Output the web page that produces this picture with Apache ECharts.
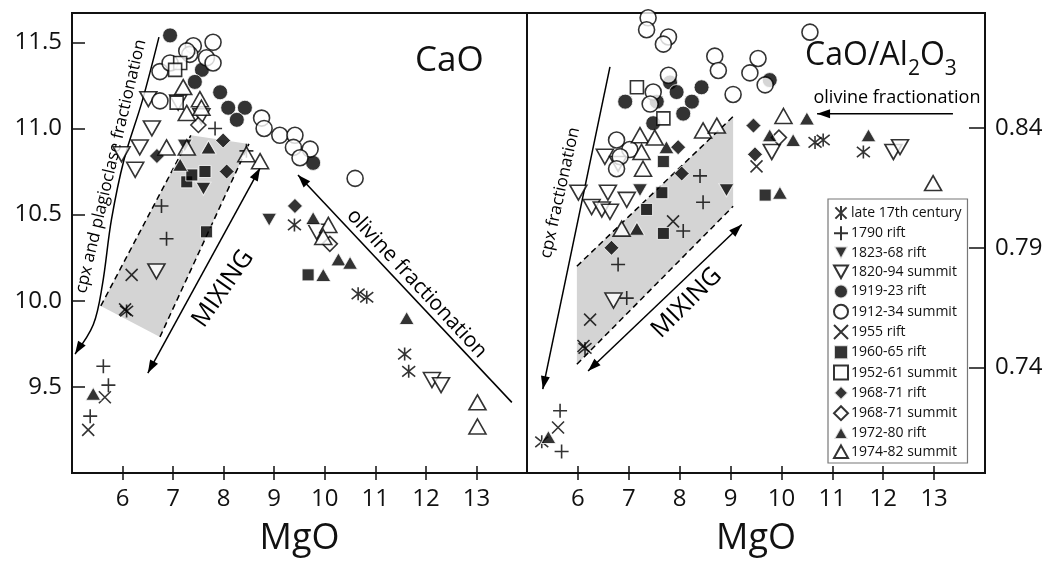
<!DOCTYPE html>
<html>
<head>
<meta charset="utf-8">
<script src="https://cdn.jsdelivr.net/npm/echarts@6/dist/echarts.min.js"></script>
<style>
  html, body { margin: 0; padding: 0; background: #fff; }
  #main { width: 1050px; height: 563px; }
</style>
</head>
<body>
<div id="main"></div>
<script>
// Kilauea lavas: CaO and CaO/Al2O3 against MgO (wt%), grouped by eruption.
const groupNames = [
  'late 17th century', '1790 rift', '1823-68 rift', '1820-94 summit',
  '1919-23 rift', '1912-34 summit', '1955 rift', '1960-65 rift',
  '1952-61 summit', '1968-71 rift', '1968-71 summit', '1972-80 rift', '1974-82 summit'
];

const mgoTicks = [6, 7, 8, 9, 10, 11, 12, 13];
const caoTicks = [9.5, 10, 10.5, 11, 11.5];
const ratioTicks = [0.74, 0.79, 0.84];

// ---- CaO vs MgO, [MgO, CaO] ----
const caoLate17 = [[9.40, 10.44], [10.66, 10.04], [10.83, 10.02], [11.58, 9.69], [11.66, 9.59], [6.08, 9.94]];
const caoRift1790 = [[6.77, 10.55], [6.87, 10.36], [5.62, 9.62], [5.72, 9.51], [5.36, 9.33], [7.83, 11.00], [8.45, 10.87]];
const caoRift1823 = [[8.90, 10.47], [7.23, 10.90], [7.60, 10.65]];
const caoSummit1820 = [[6.51, 11.17], [7.10, 11.15], [6.58, 11.00], [5.98, 10.85], [6.34, 10.89], [6.25, 10.76],
  [7.56, 11.07], [6.67, 10.17], [12.12, 9.54], [12.30, 9.51], [9.84, 10.40]];
const caoRift1919 = [[6.94, 11.54], [7.57, 11.34], [7.43, 11.27], [7.93, 11.21], [8.09, 11.12], [8.42, 11.12], [8.26, 11.05], [9.77, 10.80]];
const caoSummit1912 = [[7.40, 11.48], [7.79, 11.50], [7.33, 11.43], [7.66, 11.41], [7.79, 11.38], [6.74, 11.33], [6.94, 11.38],
  [7.27, 11.45], [6.74, 11.16], [8.75, 11.06], [8.80, 11.00], [9.11, 10.96], [9.41, 10.96], [9.38, 10.89], [9.71, 10.88],
  [9.51, 10.83], [10.60, 10.71]];
const caoRift1955 = [[6.18, 10.15], [6.05, 9.95], [5.32, 9.25], [5.65, 9.44]];
const caoRift1960 = [[7.66, 10.40], [7.63, 10.75], [7.27, 10.69], [7.37, 10.73], [9.67, 10.15]];
const caoSummit1952 = [[7.14, 11.38], [7.04, 11.34], [7.07, 11.15]];
const caoRift1968 = [[6.68, 10.84], [7.99, 10.93], [8.06, 10.75], [9.41, 10.55]];
const caoSummit1968 = [[7.50, 11.02], [10.10, 10.33]];
const caoRift1972 = [[7.70, 10.89], [7.14, 10.79], [9.77, 10.48], [10.27, 10.24], [10.50, 10.22], [9.97, 10.15], [11.62, 9.90], [5.42, 9.46]];
const caoSummit1974 = [[7.20, 11.24], [7.53, 11.17], [7.27, 11.09], [7.56, 11.12], [6.87, 10.89], [8.72, 10.81], [8.45, 10.85],
  [10.07, 10.44], [9.97, 10.37], [13.02, 9.41], [13.02, 9.27], [7.27, 10.89]];

// ---- CaO/Al2O3 vs MgO, [MgO, CaO/Al2O3] ----
const ratioLate17 = [[5.29, 0.709], [10.66, 0.834], [10.82, 0.835], [11.61, 0.830], [6.14, 0.748]];
const ratioRift1790 = [[8.40, 0.820], [8.46, 0.809], [6.79, 0.783], [6.96, 0.769], [8.07, 0.797], [5.65, 0.722], [5.68, 0.705]];
const ratioRift1823 = [[7.22, 0.814], [8.92, 0.814]];
const ratioSummit1820 = [[6.53, 0.828], [6.79, 0.825], [9.81, 0.830], [6.01, 0.813], [6.27, 0.807], [6.47, 0.806], [6.63, 0.805],
  [6.96, 0.810], [6.70, 0.768], [12.20, 0.830], [12.33, 0.832], [6.59, 0.813]];
const ratioRift1919 = [[9.77, 0.860], [7.81, 0.859], [7.94, 0.855], [8.43, 0.857], [8.24, 0.851], [8.07, 0.846], [6.93, 0.851],
  [7.55, 0.851], [7.48, 0.842]];
const ratioSummit1912 = [[7.38, 0.886], [7.35, 0.881], [7.78, 0.878], [7.68, 0.875], [8.69, 0.870], [8.76, 0.864], [9.54, 0.869],
  [9.38, 0.863], [9.05, 0.854], [9.68, 0.858], [7.78, 0.862], [7.48, 0.855], [7.42, 0.850], [6.76, 0.835], [7.02, 0.831],
  [6.83, 0.828], [6.76, 0.823], [10.56, 0.880]];
const ratioRift1955 = [[6.24, 0.760], [6.11, 0.749], [5.61, 0.715], [7.87, 0.801], [9.51, 0.824]];
const ratioRift1960 = [[7.68, 0.826], [7.65, 0.813], [7.35, 0.806], [7.68, 0.796], [9.68, 0.812]];
const ratioSummit1952 = [[7.16, 0.857], [7.68, 0.844]];
const ratioRift1968 = [[7.97, 0.832], [8.04, 0.821], [9.45, 0.841], [9.48, 0.829], [6.66, 0.790]];
const ratioSummit1968 = [[9.95, 0.836]];
const ratioRift1972 = [[7.74, 0.832], [9.77, 0.837], [10.50, 0.844], [11.71, 0.837], [10.23, 0.835], [9.97, 0.813], [7.16, 0.798], [5.42, 0.711]];
const ratioSummit1974 = [[7.22, 0.837], [8.46, 0.839], [8.73, 0.841], [7.25, 0.830], [7.28, 0.823], [10.04, 0.845], [7.51, 0.836],
  [6.86, 0.798], [12.98, 0.817]];

// ---- interpretive overlays, in axis units ----
const caoMixBand = [[7.35, 10.96], [8.50, 10.91], [6.74, 9.79], [5.57, 9.97]];
const caoCpxCurve = [[6.72, 11.53], [6.39, 11.16], [6.03, 10.82], [5.78, 10.47], [5.60, 10.09], [5.42, 9.86], [5.06, 9.69]];
const caoMixArrow = [[6.50, 9.58], [8.72, 10.77]];
const caoOlivineArrow = [[13.70, 9.41], [9.47, 10.73]];
const ratioMixBand = [[5.98, 0.7823], [9.05, 0.8448], [9.05, 0.8073], [5.98, 0.7414]];
const ratioCpxArrow = [[6.63, 0.8655], [5.31, 0.7310]];
const ratioMixArrow = [[6.20, 0.7386], [9.22, 0.7997]];
const ratioOlivineArrow = [[13.37, 0.846], [10.70, 0.846]];

const FONT = '"Open Sans", "Noto Sans", sans-serif';

const panelSets = [
  [caoLate17, caoRift1790, caoRift1823, caoSummit1820, caoRift1919, caoSummit1912, caoRift1955,
   caoRift1960, caoSummit1952, caoRift1968, caoSummit1968, caoRift1972, caoSummit1974],
  [ratioLate17, ratioRift1790, ratioRift1823, ratioSummit1820, ratioRift1919, ratioSummit1912, ratioRift1955,
   ratioRift1960, ratioSummit1952, ratioRift1968, ratioSummit1968, ratioRift1972, ratioSummit1974]
];

const ASTER = 'path://M1,1 L9,9 M9,1 L1,9 M5,0 L5,10';
const PLUS = 'path://M5,0 L5,10 M0,5 L10,5';
const CROSS = 'path://M0,0 L10,10 M10,0 L0,10';
const DOWN = 'path://M0,0 L10,0 L5,9 Z';
const UP = 'path://M5,0 L10,9 L0,9 Z';

const line = () => ({ color: 'rgba(0,0,0,0)', borderColor: '#000', borderWidth: 1.6 });
const solid = { color: '#000', borderColor: '#fff', borderWidth: 1 };
const open = { color: '#fff', borderColor: '#000', borderWidth: 1.6 };

const markerStyles = [
  { symbol: ASTER, size: 13, style: line() },
  { symbol: PLUS, size: 14, style: line() },
  { symbol: DOWN, size: [15, 13], style: solid },
  { symbol: DOWN, size: [17, 15], style: open },
  { symbol: 'circle', size: 15, style: solid },
  { symbol: 'circle', size: 16, style: open },
  { symbol: CROSS, size: 12, style: line() },
  { symbol: 'rect', size: 12, style: solid },
  { symbol: 'rect', size: 13, style: open },
  { symbol: 'diamond', size: 15, style: solid },
  { symbol: 'diamond', size: 15, style: open },
  { symbol: UP, size: [15, 13], style: solid },
  { symbol: UP, size: [17, 15], style: open }
];

function arrowHead(tip, from, len, half) {
  const dx = tip[0] - from[0], dy = tip[1] - from[1];
  const d = Math.hypot(dx, dy) || 1;
  const ux = dx / d, uy = dy / d;
  const bx = tip[0] - ux * len, by = tip[1] - uy * len;
  return {
    type: 'polygon',
    shape: { points: [tip, [bx - uy * half, by + ux * half], [bx + uy * half, by - ux * half]] },
    style: { fill: '#000' }
  };
}
function stroke(points, opt) {
  opt = opt || {};
  return {
    type: 'polyline',
    shape: { points: points, smooth: opt.smooth || 0 },
    style: { stroke: '#000', lineWidth: opt.width || 1.5, lineDash: opt.dash || null, fill: null }
  };
}
function arrow(points, both, smooth) {
  const n = points.length;
  const out = [stroke(points, { smooth: smooth })];
  out.push(arrowHead(points[n - 1], points[n - 2], 13, 4.5));
  if (both) out.push(arrowHead(points[0], points[1], 13, 4.5));
  return out;
}
function label(pos, text, size, deg) {
  return {
    type: 'text', x: pos[0], y: pos[1], rotation: deg * Math.PI / 180,
    style: { text: text, fontSize: size, fontFamily: FONT, fill: '#000', align: 'center', verticalAlign: 'middle' }
  };
}

function overlay(gridIndex, anchor, build) {
  return {
    type: 'custom', xAxisIndex: gridIndex * 2, yAxisIndex: gridIndex, z: 1,
    silent: true, clip: false, animation: false, data: [anchor],
    renderItem: (params, api) => ({ type: 'group', children: build((p) => api.coord(p)) })
  };
}

const caoOverlay = overlay(0, [5, 9], (c) => {
  const band = caoMixBand.map(c);
  return [
    { type: 'polygon', shape: { points: band }, style: { fill: '#d4d4d4' } },
    stroke([band[3], band[0]], { dash: [6, 4] }),
    stroke([band[2], band[1]], { dash: [6, 4] }),
    ...arrow(caoCpxCurve.map(c), false, 0.35),
    ...arrow(caoMixArrow.map(c), true),
    ...arrow(caoOlivineArrow.map(c), false),
    label(c([5.77, 10.78]), 'cpx and plagioclase fractionation', 17, 76.7),
    label(c([7.99, 10.07]), 'MIXING', 25, 55),
    label(c([11.82, 10.10]), 'olivine fractionation', 21, -47)
  ];
});

const ratioOverlay = overlay(1, [5, 0.7], (c) => {
  const band = ratioMixBand.map(c);
  return [
    { type: 'polygon', shape: { points: band }, style: { fill: '#d4d4d4' } },
    stroke([band[0], band[1]], { dash: [6, 4] }),
    stroke([band[3], band[2]], { dash: [6, 4] }),
    ...arrow(ratioCpxArrow.map(c), false),
    ...arrow(ratioMixArrow.map(c), true),
    ...arrow(ratioOlivineArrow.map(c), false),
    label(c([5.65, 0.813]), 'cpx fractionation', 17, 77.6),
    label(c([8.14, 0.767]), 'MIXING', 25, 45),
    label(c([12.27, 0.8526]), 'olivine fractionation', 18, 0)
  ];
});

const scatterSeries = [];
panelSets.forEach((sets, gi) => {
  sets.forEach((data, i) => {
    const m = markerStyles[i];
    scatterSeries.push({
      type: 'scatter', name: groupNames[i], xAxisIndex: gi * 2, yAxisIndex: gi,
      data: data, symbol: m.symbol, symbolSize: m.size, itemStyle: m.style,
      z: 2, emphasis: { disabled: true }, animation: false
    });
  });
});

function mgoAxis(gi, inner) {
  return {
    type: 'value', gridIndex: gi, min: 5, max: 14, position: 'bottom',
    splitLine: { show: false },
    axisLine: { show: !inner, onZero: false, lineStyle: { color: '#111', width: 2 } },
    axisTick: { show: true, inside: inner, length: 7, customValues: mgoTicks, lineStyle: { color: '#111', width: 1.5 } },
    axisLabel: {
      show: !inner, customValues: mgoTicks, margin: 14,
      fontSize: 24, fontFamily: FONT, color: '#111'
    },
    name: inner ? '' : 'MgO', nameLocation: 'middle', nameGap: 48,
    nameTextStyle: { fontSize: 36, fontFamily: FONT, color: '#111' }
  };
}

const option = {
  backgroundColor: '#fff',
  animation: false,
  grid: [
    { left: 72, right: 523, top: 13, bottom: 90, show: true, borderColor: '#111', borderWidth: 2 },
    { left: 527, right: 65, top: 13, bottom: 90, show: true, borderColor: '#111', borderWidth: 2 }
  ],
  xAxis: [mgoAxis(0, false), mgoAxis(0, true), mgoAxis(1, false), mgoAxis(1, true)],
  yAxis: [
    {
      type: 'value', gridIndex: 0, min: 9.0, max: 11.67, position: 'left',
      splitLine: { show: false },
      axisLine: { show: true, lineStyle: { color: '#111', width: 2 } },
      axisTick: { show: true, inside: true, length: 13, customValues: caoTicks, lineStyle: { color: '#111', width: 1.5 } },
      axisLabel: {
        customValues: caoTicks, margin: 10, fontSize: 24, fontFamily: FONT, color: '#111',
        formatter: (v) => v.toFixed(1)
      }
    },
    {
      type: 'value', gridIndex: 1, min: 0.696, max: 0.888, position: 'right',
      splitLine: { show: false },
      axisLine: { show: true, lineStyle: { color: '#111', width: 2 } },
      axisTick: { show: true, inside: true, length: 16, customValues: ratioTicks, lineStyle: { color: '#111', width: 1.5 } },
      axisLabel: {
        customValues: ratioTicks, margin: 10, fontSize: 24, fontFamily: FONT, color: '#111',
        formatter: (v) => v.toFixed(2)
      }
    }
  ],
  legend: {
    data: groupNames, orient: 'vertical', left: 828, top: 199,
    itemWidth: 14, itemHeight: 14, itemGap: 4.3, selectedMode: false,
    padding: [6, 6, 4, 5], backgroundColor: '#fff', borderColor: '#777', borderWidth: 1.2,
    textStyle: { fontSize: 14, fontFamily: FONT, color: '#111', lineHeight: 14, padding: [0, 0, 0, -2] }
  },
  graphic: [
    {
      type: 'text', left: 415, top: 44,
      style: { text: 'CaO', fontSize: 35, fontFamily: FONT, fill: '#111' }
    },
    {
      type: 'text', left: 805, top: 40,
      style: {
        text: '{m|CaO/Al}{s|2}{m|O}{s|3}', fontFamily: FONT, fill: '#111',
        rich: {
          m: { fontSize: 32, lineHeight: 34, verticalAlign: 'top', fontFamily: FONT, fill: '#111' },
          s: { fontSize: 21, lineHeight: 21, padding: [19, 0, 0, 0], verticalAlign: 'top', fontFamily: FONT, fill: '#111' }
        }
      }
    }
  ],
  series: [caoOverlay, ratioOverlay, ...scatterSeries]
};

const chart = echarts.init(document.getElementById('main'), null, { renderer: 'canvas' });
chart.setOption(option);
</script>
</body>
</html>
